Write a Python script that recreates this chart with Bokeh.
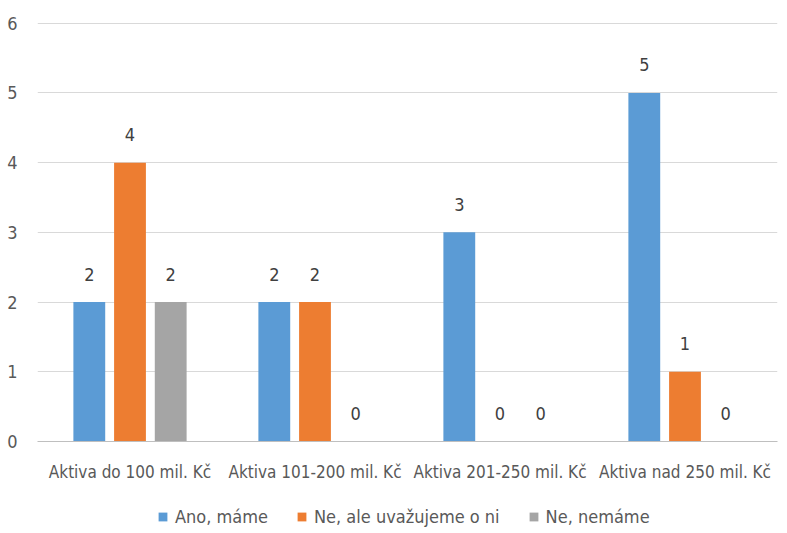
from bokeh.plotting import figure
from bokeh.layouts import column
from bokeh.models import ColumnDataSource, FactorRange, Legend, LegendItem, SingleIntervalTicker
from bokeh.transform import dodge
from bokeh.core.properties import value
from bokeh.embed import file_html
from bokeh.resources import INLINE

categories = ["Aktiva do 100 mil. Kč", "Aktiva 101-200 mil. Kč", "Aktiva 201-250 mil. Kč", "Aktiva nad 250 mil. Kč"]
series_names = ["Ano, máme", "Ne, ale uvažujeme o ni", "Ne, nemáme"]
ano_mame = [2, 2, 3, 5]
ne_uvazujeme = [4, 2, 0, 1]
ne_nemame = [2, 0, 0, 0]
colors = ["#5B9BD5", "#ED7D31", "#A5A5A5"]

FONT = "DejaVu Sans Condensed"
FS = "18px"

p = figure(x_range=FactorRange(factors=categories, range_padding=0), y_range=(0, 6.01),
           width=779, height=486, output_backend="svg", toolbar_location=None,
           min_border_left=37, min_border_right=2, min_border_top=22, min_border_bottom=45)
p.outline_line_color = None
p.background_fill_color = "white"

offsets = [-0.22, 0.0, 0.22]
values_list = [ano_mame, ne_uvazujeme, ne_nemame]
for vals, col, off in zip(values_list, colors, offsets):
    src = ColumnDataSource(dict(cat=categories, val=vals, lab=[str(v) for v in vals]))
    p.vbar(x=dodge("cat", off, range=p.x_range), top="val", bottom=0, width=0.172,
           source=src, fill_color=col, line_color=None)
    p.text(x=dodge("cat", off, range=p.x_range), y="val", text="lab", source=src,
           text_align="center", text_baseline="middle", y_offset=-28,
           text_font=value(FONT), text_font_size=FS, text_color="#404040")

p.yaxis.ticker = SingleIntervalTicker(interval=1)
p.yaxis.axis_line_color = None
p.yaxis.major_tick_line_color = None
p.yaxis.minor_tick_line_color = None
p.yaxis.major_label_text_font = FONT
p.yaxis.major_label_text_font_size = FS
p.yaxis.major_label_text_color = "#595959"
p.yaxis.major_label_standoff = 14

p.xaxis.axis_line_color = "#BFBFBF"
p.xaxis.major_tick_line_color = None
p.xaxis.minor_tick_line_color = None
p.xaxis.major_label_text_font = FONT
p.xaxis.major_label_text_font_size = "17px"
p.xaxis.major_label_text_color = "#595959"
p.xaxis.major_label_standoff = 14

p.xgrid.grid_line_color = None
p.ygrid.grid_line_color = "#D9D9D9"
p.ygrid.grid_line_width = 1

# legend strip below the chart (its bars lie outside the visible y range)
p2 = figure(x_range=FactorRange(factors=categories), y_range=(50, 51),
            width=779, height=41, output_backend="svg", toolbar_location=None,
            min_border=0, x_axis_location=None, y_axis_location=None)
p2.outline_line_color = None
p2.grid.grid_line_color = None
items = []
for name, vals, col in zip(series_names, values_list, colors):
    src2 = ColumnDataSource(dict(cat=categories, val=vals))
    r = p2.vbar(x="cat", top="val", bottom=0, width=0.2, source=src2,
                fill_color=col, line_color=None)
    items.append(LegendItem(label=name, renderers=[r]))

legend = Legend(items=items, orientation="horizontal", location=(120, 0),
                label_text_font=FONT, label_text_font_size=FS, label_text_color="#595959",
                glyph_width=11, glyph_height=11, spacing=28, label_standoff=7,
                border_line_color=None, background_fill_alpha=0, padding=0, margin=0)
p2.add_layout(legend, "center")

open("out.html", "w").write(file_html(column(p, p2), INLINE))
